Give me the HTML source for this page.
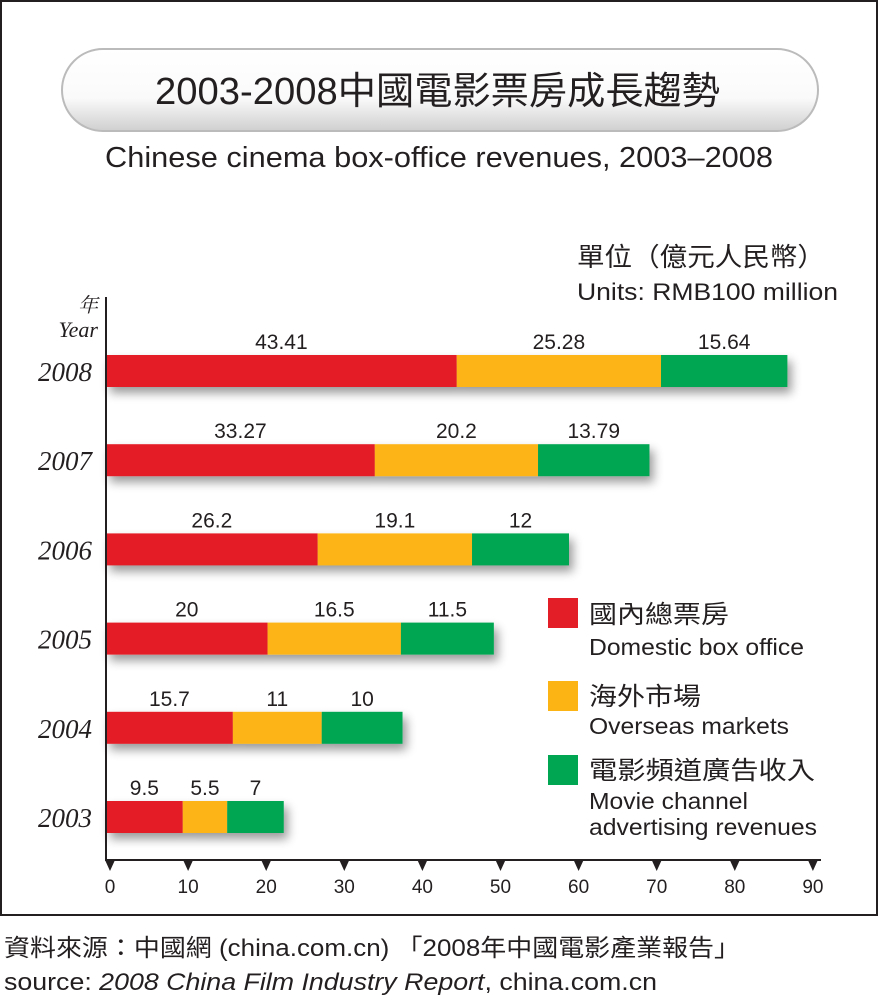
<!DOCTYPE html>
<html><head><meta charset="utf-8"><style>
body{margin:0;background:#fff;}
svg text{font-family:"Liberation Sans","Noto Sans CJK TC",sans-serif;fill:#231f20;}
.serif{font-family:"Liberation Serif","Noto Serif CJK SC",serif;font-style:italic;}
</style></head><body>
<svg width="878" height="1000" viewBox="0 0 878 1000">
<defs>
<linearGradient id="pill" x1="0" y1="0" x2="0" y2="1"><stop offset="0" stop-color="#fff"/><stop offset="0.6" stop-color="#fafafa"/><stop offset="1" stop-color="#cfcfcf"/></linearGradient>
<filter id="sh" x="-10%" y="-50%" width="125%" height="220%"><feGaussianBlur in="SourceAlpha" stdDeviation="5"/><feOffset dx="4" dy="6"/><feComponentTransfer><feFuncA type="linear" slope="0.4"/></feComponentTransfer><feMerge><feMergeNode/><feMergeNode in="SourceGraphic"/></feMerge></filter>
</defs>
<rect x="1" y="1" width="876" height="914" fill="#fff" stroke="#231f20" stroke-width="2"/>
<rect x="62" y="49" width="756" height="82" rx="41" fill="url(#pill)" stroke="#bbb" stroke-width="2"/>
<text x="155" y="104" font-size="38" textLength="565" lengthAdjust="spacingAndGlyphs">2003-2008中國電影票房成長趨勢</text>
<text x="105" y="167" font-size="29" textLength="668" lengthAdjust="spacingAndGlyphs">Chinese cinema box-office revenues, 2003–2008</text>
<text x="577" y="266" font-size="26" textLength="248" lengthAdjust="spacingAndGlyphs">單位（億元人民幣）</text>
<text x="577" y="300" font-size="24" textLength="261" lengthAdjust="spacingAndGlyphs">Units: RMB100 million</text>
<text x="98" y="312" text-anchor="end" font-size="20" class="serif">年</text>
<text x="98" y="337" text-anchor="end" font-size="22" class="serif">Year</text>
<g id="bars"></g>
<line x1="106" y1="297" x2="106" y2="861" stroke="#231f20" stroke-width="2"/>
<line x1="105" y1="860" x2="821" y2="860" stroke="#231f20" stroke-width="2"/>
<g id="ticks"></g>
<g>
<rect x="548" y="598" width="30" height="30" fill="#e31e26"/>
<text x="589" y="623" font-size="25" textLength="140" lengthAdjust="spacingAndGlyphs">國內總票房</text>
<text x="589" y="655" font-size="23" textLength="215" lengthAdjust="spacingAndGlyphs">Domestic box office</text>
<rect x="548" y="681" width="30" height="30" fill="#fcb415"/>
<text x="589" y="705" font-size="25" textLength="112" lengthAdjust="spacingAndGlyphs">海外市場</text>
<text x="589" y="734" font-size="23" textLength="200" lengthAdjust="spacingAndGlyphs">Overseas markets</text>
<rect x="548" y="755" width="30" height="30" fill="#00a651"/>
<text x="589" y="779" font-size="25" textLength="226" lengthAdjust="spacingAndGlyphs">電影頻道廣告收入</text>
<text x="589" y="809" font-size="23" textLength="159" lengthAdjust="spacingAndGlyphs">Movie channel</text>
<text x="589" y="835" font-size="23" textLength="228" lengthAdjust="spacingAndGlyphs">advertising revenues</text>
</g>
<text x="4" y="956" font-size="24" textLength="736" lengthAdjust="spacingAndGlyphs">資料來源：中國網 (china.com.cn) 「2008年中國電影產業報告」</text>
<text x="4" y="990" font-size="24" textLength="653" lengthAdjust="spacingAndGlyphs">source: <tspan font-style="italic">2008 China Film Industry Report</tspan>, china.com.cn</text>
</svg>
<script>
const years=["2008","2007","2006","2005","2004","2003"];
const domestic=[43.41,33.27,26.2,20,15.7,9.5];
const overseas=[25.28,20.2,19.1,16.5,11,5.5];
const channel=[15.64,13.79,12,11.5,10,7];
const tickValues=[0,10,20,30,40,50,60,70,80,90];
const NS="http://www.w3.org/2000/svg";
const barX=v=>106+v*8.08;
const axisX=v=>110+v*7.81;
const rowY=i=>371+i*89.2;
const colors=["#e31e26","#fcb415","#00a651"];
const names=["domestic","overseas","channel"];
const bars=document.getElementById('bars');
function mk(tag,attrs,parent){const e=document.createElementNS(NS,tag);for(const k in attrs)e.setAttribute(k,attrs[k]);parent.appendChild(e);return e;}
years.forEach((y,i)=>{
  const cy=rowY(i);
  const g=mk('g',{},bars);
  
  
  const vals=[domestic[i],overseas[i],channel[i]];
  const sg=mk('g',{filter:'url(#sh)'},g);
  let acc=0;
  vals.forEach((v,j)=>{
    const x0=barX(acc),x1=barX(acc+v);
    const r=mk('rect',{x:x0,y:cy-16,width:x1-x0,height:32,fill:colors[j]},sg);
    
    
    const t=mk('text',{x:(x0+x1)/2,y:cy-22,'text-anchor':'middle','font-size':21},g);
    t.textContent=String(v);
    
    
    acc+=v;
  });
  const yl=mk('text',{x:92,y:cy+10,'text-anchor':'end','font-size':27,class:'serif'},g);
  yl.textContent=y;
  
  
});
const tg=document.getElementById('ticks');
tickValues.forEach(v=>{
  const x=axisX(v);
  const p=mk('polygon',{points:`${x-5},860 ${x+5},860 ${x},871`,fill:'#231f20'},tg);
  
  
  const t=mk('text',{x:x,y:893,'text-anchor':'middle','font-size':19},tg);
  t.textContent=String(v);
  
  
});
</script>
</body></html>
